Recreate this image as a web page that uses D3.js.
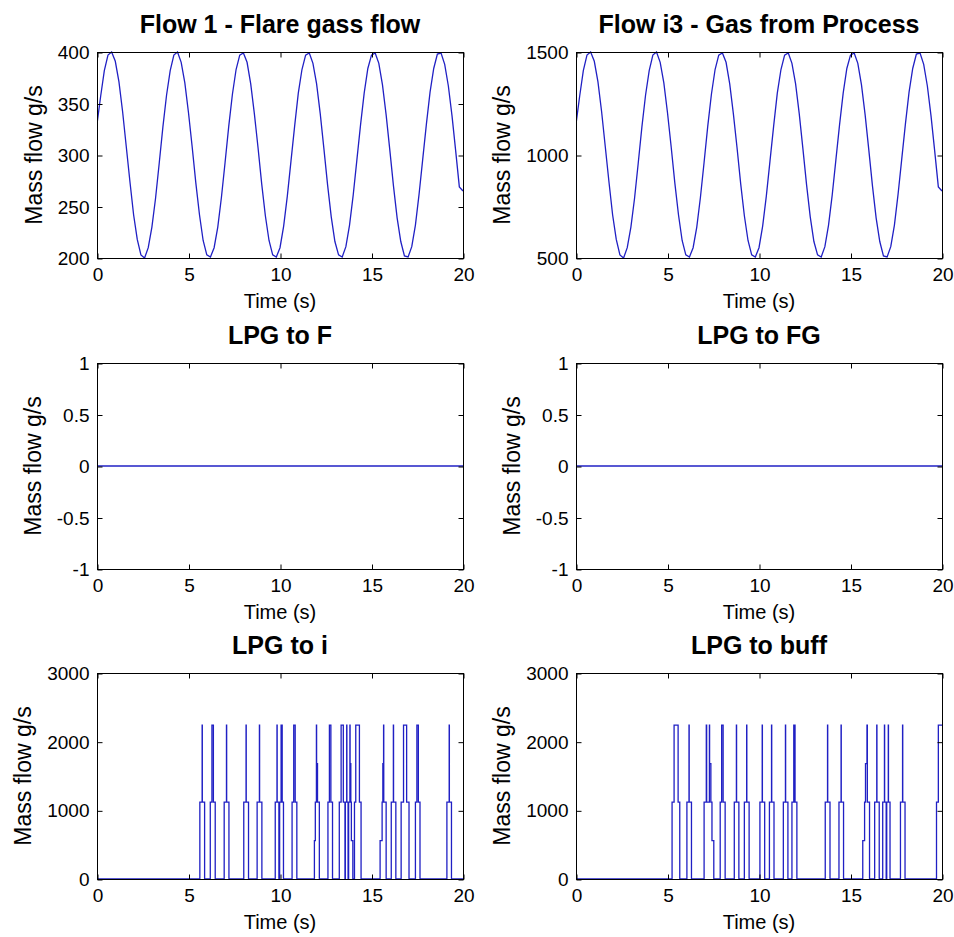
<!DOCTYPE html>
<html><head><meta charset="utf-8">
<script src="https://cdn.jsdelivr.net/npm/d3@7"></script>
<style>
body{margin:0;background:#fff}
text{font-family:"Liberation Sans",Arial,Helvetica,sans-serif;fill:#000}
</style>
</head><body>
<svg id="chart" width="954" height="937"></svg>
<script>
// ---------------- data ----------------
const xTickValues = [0, 5, 10, 15, 20];
const xTickLabels = ["0", "5", "10", "15", "20"];
const xDomain = [0, 20];

const sampleStep = 0.2; // s between samples of the sine-like flows

const flow1Values = [
  330,357,382,397,400,391,371,342,308,274,
  242,218,203,200,210,230,258,292,327,358,
  382,397,400,390,370,341,308,273,242,217,
  203,201,210,230,259,293,328,359,383,397,
  399,390,369,340,307,272,241,217,203,201,
  210,231,260,294,328,360,383,397,399,389,
  369,340,306,271,240,216,203,201,211,232,
  261,295,329,360,384,397,399,389,368,339,
  305,270,239,216,202,201,211,232,262,296,
  330,361,384,398,399,388,367,338,304,269,
  265
];
const flow1YTicks = [200, 250, 300, 350, 400];
const flow1YLabels = ["200", "250", "300", "350", "400"];

const flowI3Values = [
  1150,1285,1410,1485,1500,1455,1355,1210,1040,870,
  710,590,515,500,550,650,790,960,1135,1290,
  1410,1485,1500,1450,1350,1205,1040,865,710,585,
  515,505,550,650,795,965,1140,1295,1415,1485,
  1495,1450,1345,1200,1035,860,705,585,515,505,
  550,655,800,970,1140,1300,1415,1485,1495,1445,
  1345,1200,1030,855,700,580,515,505,555,660,
  805,975,1145,1300,1420,1485,1495,1445,1340,1195,
  1025,850,695,580,510,505,555,660,810,980,
  1150,1305,1420,1490,1495,1440,1335,1190,1020,845,
  825
];
const flowI3YTicks = [500, 1000, 1500];
const flowI3YLabels = ["500", "1000", "1500"];

const lpgFTimes = [0, 20];
const lpgFValues = [0, 0];
const lpgFGTimes = [0, 20];
const lpgFGValues = [0, 0];
const lpgYTicks = [-1, -0.5, 0, 0.5, 1];
const lpgYLabels = ["-1", "-0.5", "0", "0.5", "1"];

// step series (value holds from time[i] until time[i+1])
const lpgITimes = [
  0,
  5.62,5.745,5.755,5.88,
  6.19,6.28,6.36,6.46,
  6.95,7.075,7.085,7.21,
  8.02,8.145,8.155,8.28,
  8.75,8.875,8.885,9.01,
  9.74,9.835,9.845,9.94,
  9.98,10.06,10.12,10.19,
  10.66,10.75,10.83,10.92,
  11.88,11.93,11.99,12.0,12.05,12.15,
  12.62,12.70,12.78,12.87,
  13.24,13.34,13.46,13.55,
  13.57,13.645,13.655,13.72,
  13.75,13.82,13.83,13.87,13.9,13.98,
  14.07,14.14,14.34,14.43,
  15.47,15.58,15.62,15.66,15.67,15.8,
  16.08,16.195,16.205,16.33,
  16.62,16.75,16.92,17.05,
  17.4,17.48,17.56,17.65,
  19.12,19.245,19.255,19.37,
  20
];
const lpgIValues = [
  0,
  1120,2240,1120,0,
  1120,2240,1120,0,
  1120,2240,1120,0,
  1120,2240,1120,0,
  1120,2240,1120,0,
  1120,2240,1120,0,
  1120,2240,1120,0,
  1120,2240,1120,0,
  560,1120,2240,1680,1120,0,
  1120,2240,1120,0,
  1120,2240,1120,0,
  1120,2240,1120,0,
  1120,2240,1680,1120,560,0,
  1120,2240,1120,0,
  560,1120,1680,2240,1120,0,
  1120,2240,1120,0,
  1120,2240,1120,0,
  1120,2240,1120,0,
  1120,2240,1120,0,
  0
];

const lpgBuffTimes = [
  0,
  5.25,5.36,5.58,5.67,
  6.06,6.175,6.185,6.31,
  7.0,7.12,7.14,7.29,7.30,7.37,7.43,7.53,
  7.88,7.96,8.04,8.15,
  8.65,8.765,8.775,8.9,
  9.2,9.325,9.335,9.46,
  10.05,10.175,10.185,10.31,
  10.57,10.685,10.695,10.82,
  11.33,11.445,11.455,11.58,
  11.8,11.9,11.97,12.07,
  13.62,13.745,13.755,13.88,
  14.37,14.485,14.495,14.62,
  15.67,15.77,15.82,15.9,15.92,16.04,
  16.32,16.435,16.445,16.57,
  16.76,16.855,16.865,16.95,
  16.98,17.065,17.075,17.16,
  17.73,17.845,17.855,17.98,
  19.7,19.8,
  20
];
const lpgBuffValues = [
  0,
  1120,2240,1120,0,
  1120,2240,1120,0,
  1120,2240,1120,2240,1680,1120,560,0,
  1120,2240,1120,0,
  1120,2240,1120,0,
  1120,2240,1120,0,
  1120,2240,1120,0,
  1120,2240,1120,0,
  1120,2240,1120,0,
  1120,2240,1120,0,
  1120,2240,1120,0,
  1120,2240,1120,0,
  560,1120,1680,2240,1120,0,
  1120,2240,1120,0,
  1120,2240,1120,0,
  1120,2240,1120,0,
  1120,2240,1120,0,
  1120,2240,
  2240
];
const lpgSpikeYTicks = [0, 1000, 2000, 3000];
const lpgSpikeYLabels = ["0", "1000", "2000", "3000"];

const titles = ["Flow 1 - Flare gass flow", "Flow i3 - Gas from Process",
                "LPG to F", "LPG to FG", "LPG to i", "LPG to buff"];
const xLabel = "Time (s)";
const yLabel = "Mass flow g/s";

// ---------------- layout ----------------
const sineTimes = flow1Values.map((_, i) => i * sampleStep);
const colLeft = [97, 576];
const rowTop = [52, 363, 673];
const PW = 366, PH = 206;
const lineColor = "#2020c4";

const panels = [
  {title: titles[0], col:0, row:0, t: sineTimes, v: flow1Values, yDomain:[200,400], yTicks: flow1YTicks, yLabels: flow1YLabels, curve: d3.curveLinear},
  {title: titles[1], col:1, row:0, t: sineTimes, v: flowI3Values, yDomain:[500,1500], yTicks: flowI3YTicks, yLabels: flowI3YLabels, curve: d3.curveLinear},
  {title: titles[2], col:0, row:1, t: lpgFTimes, v: lpgFValues, yDomain:[-1,1], yTicks: lpgYTicks, yLabels: lpgYLabels, curve: d3.curveLinear},
  {title: titles[3], col:1, row:1, t: lpgFGTimes, v: lpgFGValues, yDomain:[-1,1], yTicks: lpgYTicks, yLabels: lpgYLabels, curve: d3.curveLinear},
  {title: titles[4], col:0, row:2, t: lpgITimes, v: lpgIValues, yDomain:[0,3000], yTicks: lpgSpikeYTicks, yLabels: lpgSpikeYLabels, curve: d3.curveStepAfter},
  {title: titles[5], col:1, row:2, t: lpgBuffTimes, v: lpgBuffValues, yDomain:[0,3000], yTicks: lpgSpikeYTicks, yLabels: lpgSpikeYLabels, curve: d3.curveStepAfter}
];

const svg = d3.select("#chart");
svg.append("rect").attr("width", 954).attr("height", 937).attr("fill", "#fff");

panels.forEach((p, idx) => {
  const left = colLeft[p.col], top = rowTop[p.row];
  const x = d3.scaleLinear().domain(xDomain).range([left, left + PW]);
  const y = d3.scaleLinear().domain(p.yDomain).range([top + PH, top]);
  const g = svg.append("g");

  const clipId = "clip" + idx;
  g.append("clipPath").attr("id", clipId).append("rect")
    .attr("x", left).attr("y", top - 1).attr("width", PW + 1).attr("height", PH + 2);

  const pts = p.t.map((t, i) => [t, p.v[i]]);
  const line = d3.line().x(d => x(d[0])).y(d => y(d[1])).curve(p.curve);
  g.append("path").attr("d", line(pts))
    .attr("fill", "none").attr("stroke", lineColor).attr("stroke-width", 1.3)
    .attr("clip-path", `url(#${clipId})`);

  // box
  g.append("rect").attr("x", left + 0.5).attr("y", top + 0.5)
    .attr("width", PW).attr("height", PH)
    .attr("fill", "none").attr("stroke", "#000").attr("stroke-width", 1);

  const fmtX = d => xTickLabels[xTickValues.indexOf(d)];
  const fmtY = d => p.yLabels[p.yTicks.indexOf(d)];

  const axB = g.append("g").attr("transform", `translate(0.5,${top + PH + 0.5})`)
    .call(d3.axisBottom(x).tickValues(xTickValues).tickSizeInner(-5).tickSizeOuter(0).tickPadding(9).tickFormat(fmtX));
  const axT = g.append("g").attr("transform", `translate(0.5,${top + 0.5})`)
    .call(d3.axisTop(x).tickValues(xTickValues).tickSizeInner(-5).tickSizeOuter(0).tickFormat(""));
  const axL = g.append("g").attr("transform", `translate(${left + 0.5},0.5)`)
    .call(d3.axisLeft(y).tickValues(p.yTicks).tickSizeInner(-5).tickSizeOuter(0).tickPadding(8).tickFormat(fmtY));
  const axR = g.append("g").attr("transform", `translate(${left + PW + 0.5},0.5)`)
    .call(d3.axisRight(y).tickValues(p.yTicks).tickSizeInner(-5).tickSizeOuter(0).tickFormat(""));
  [axB, axT, axL, axR].forEach(a => {
    a.select(".domain").remove();
    a.selectAll("line").attr("stroke", "#000");
    a.selectAll("text").attr("font-size", 19).attr("font-family", "Liberation Sans, Arial, sans-serif").attr("fill", "#000");
  });

  // title
  g.append("text").attr("x", left + PW / 2).attr("y", top - 19)
    .attr("text-anchor", "middle").attr("font-size", 25).attr("font-weight", "bold")
    .text(p.title);

  // x label
  g.append("text").attr("x", left + PW / 2).attr("y", top + PH + 50)
    .attr("text-anchor", "middle").attr("font-size", 20).text(xLabel);

  // y label
  const bb = axL.node().getBBox();
  const lx = left + 0.5 + bb.x - 16;
  g.append("text").attr("transform", `translate(${lx},${top + PH / 2}) rotate(-90)`)
    .attr("text-anchor", "middle").attr("font-size", 23).text(yLabel);
});
</script>
</body></html>
